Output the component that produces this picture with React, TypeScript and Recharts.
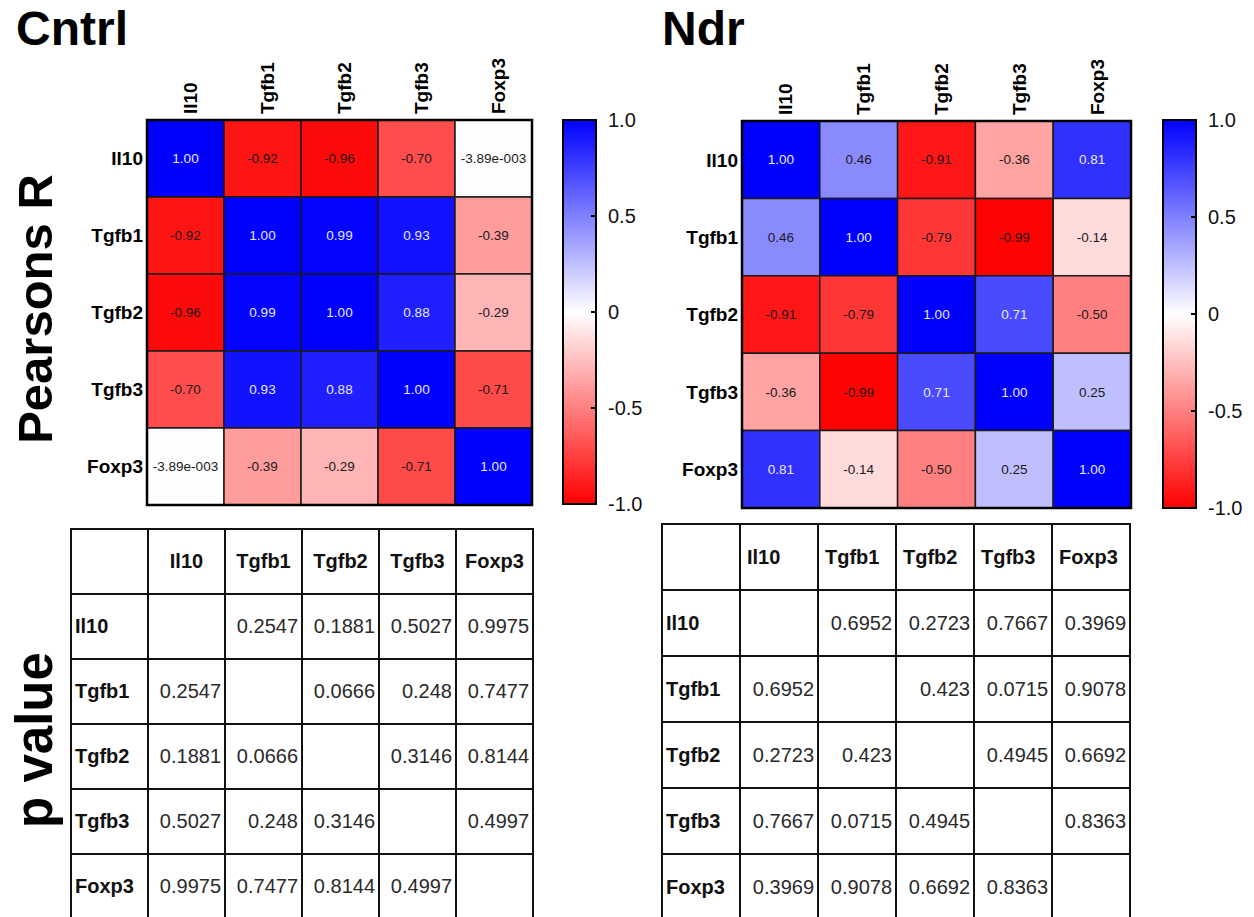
import React from 'react';
import { ScatterChart, Scatter, XAxis, YAxis, ReferenceArea, Label, BarChart, Bar } from 'recharts';

const genes = ['Il10', 'Tgfb1', 'Tgfb2', 'Tgfb3', 'Foxp3'];

const cntrlR = [
  [1.0, -0.92, -0.96, -0.7, -0.00389],
  [-0.92, 1.0, 0.99, 0.93, -0.39],
  [-0.96, 0.99, 1.0, 0.88, -0.29],
  [-0.7, 0.93, 0.88, 1.0, -0.71],
  [-0.00389, -0.39, -0.29, -0.71, 1.0],
];

const ndrR = [
  [1.0, 0.46, -0.91, -0.36, 0.81],
  [0.46, 1.0, -0.79, -0.99, -0.14],
  [-0.91, -0.79, 1.0, 0.71, -0.5],
  [-0.36, -0.99, 0.71, 1.0, 0.25],
  [0.81, -0.14, -0.5, 0.25, 1.0],
];

const cntrlP = [
  [null, 0.2547, 0.1881, 0.5027, 0.9975],
  [0.2547, null, 0.0666, 0.248, 0.7477],
  [0.1881, 0.0666, null, 0.3146, 0.8144],
  [0.5027, 0.248, 0.3146, null, 0.4997],
  [0.9975, 0.7477, 0.8144, 0.4997, null],
];

const ndrP = [
  [null, 0.6952, 0.2723, 0.7667, 0.3969],
  [0.6952, null, 0.423, 0.0715, 0.9078],
  [0.2723, 0.423, null, 0.4945, 0.6692],
  [0.7667, 0.0715, 0.4945, null, 0.8363],
  [0.3969, 0.9078, 0.6692, 0.8363, null],
];

const cellCenters = [0.5, 1.5, 2.5, 3.5, 4.5];
const colorTicks = [-1, -0.5, 0, 0.5, 1];
const innerTicks = [-0.5, 0, 0.5];
const barData = [{ name: 'scale', range: [-1, 1] }];

const FONT = '"Liberation Sans", Arial, Helvetica, sans-serif';

function cellColor(v: number) {
  if (v >= 0) {
    const c = Math.round(255 * (1 - v));
    return `rgb(${c},${c},255)`;
  }
  const c = Math.round(255 * (1 + v));
  return `rgb(255,${c},${c})`;
}

function fmtR(v: number) {
  if (v !== 0 && Math.abs(v) < 0.01) {
    return v.toExponential(2).replace(/e([+-])(\d+)$/, (_m, s, d) => 'e' + s + String(d).padStart(3, '0'));
  }
  return v.toFixed(2);
}

function fmtTick(v: number) {
  return v === 0 ? '0' : v.toFixed(1);
}

const ColTick = (props: any) => {
  const { x, y, payload } = props;
  const name = genes[Math.floor(payload.value)];
  return (
    <text
      transform={`translate(${x},${y}) rotate(-90)`}
      textAnchor="start"
      dy="0.6em"
      fontFamily={FONT}
      fontWeight={700}
      fontSize={19}
      fill="#000"
    >
      {name}
    </text>
  );
};

const RowTick = (props: any) => {
  const { x, y, payload } = props;
  const name = genes[Math.floor(payload.value)];
  return (
    <text x={x} y={y} textAnchor="end" dy="0.36em" fontFamily={FONT} fontWeight={700} fontSize={19} fill="#000">
      {name}
    </text>
  );
};

function Heatmap({ matrix, left, top, margin }: any) {
  const points = matrix.flatMap((row: number[], i: number) => row.map((v, j) => ({ x: j + 0.5, y: i + 0.5, v })));
  return (
    <div style={{ position: 'absolute', left, top }}>
      <ScatterChart width={560} height={520} margin={margin}>
        <XAxis
          type="number"
          dataKey="x"
          orientation="top"
          domain={[0, 5]}
          ticks={cellCenters}
          interval={0}
          height={100}
          tickSize={0}
          tickMargin={6}
          axisLine={false}
          tickLine={false}
          tick={<ColTick />}
          allowDataOverflow
        />
        <YAxis
          type="number"
          dataKey="y"
          domain={[0, 5]}
          reversed
          ticks={cellCenters}
          interval={0}
          width={140}
          tickSize={0}
          tickMargin={4}
          axisLine={false}
          tickLine={false}
          tick={<RowTick />}
          allowDataOverflow
        />
        <Scatter data={points} fill="none" isAnimationActive={false} shape={() => <g />} />
        {matrix.map((row: number[], i: number) =>
          row.map((v: number, j: number) => (
            <ReferenceArea
              key={`c${i}-${j}`}
              x1={j}
              x2={j + 1}
              y1={i}
              y2={i + 1}
              fill={cellColor(v)}
              fillOpacity={1}
              stroke="#1a1a1a"
              strokeWidth={1.5}
              label={
                <Label
                  value={fmtR(v)}
                  position="center"
                  fill={v >= 0.6 ? '#e8e8ff' : '#1a1a1a'}
                  fontSize={13.5}
                  fontFamily={FONT}
                />
              }
            />
          ))
        )}
        <ReferenceArea x1={0} x2={5} y1={0} y2={5} fill="none" fillOpacity={0} stroke="#000" strokeWidth={2.5} />
      </ScatterChart>
    </div>
  );
}

function ColorBar({ left, top, width, height, margin, axisWidth, gradId }: any) {
  return (
    <div style={{ position: 'absolute', left, top }}>
      <BarChart width={width} height={height} data={barData} margin={margin} barCategoryGap={0}>
        <XAxis dataKey="name" hide />
        <YAxis
          yAxisId="l"
          orientation="left"
          mirror
          domain={[-1, 1]}
          ticks={innerTicks}
          interval={0}
          tick={false}
          tickSize={5}
          axisLine={false}
          tickLine={{ stroke: '#000', strokeWidth: 2 }}
        />
        <YAxis
          yAxisId="r"
          orientation="right"
          domain={[-1, 1]}
          ticks={colorTicks}
          interval={0}
          width={axisWidth}
          tickSize={-5}
          tickMargin={17}
          axisLine={false}
          tickLine={{ stroke: '#000', strokeWidth: 2 }}
          tick={{ fill: '#111', fontSize: 20, fontFamily: FONT }}
          tickFormatter={fmtTick}
        />
        <Bar yAxisId="r" dataKey="range" fill={`url(#${gradId})`} stroke="#000" strokeWidth={2} isAnimationActive={false} />
      </BarChart>
    </div>
  );
}

function PTable({ data, left, top, width, rowH, headerAlign, headerPad }: any) {
  const base: React.CSSProperties = {
    border: '2.5px solid #111',
    fontSize: 20,
    height: rowH,
    verticalAlign: 'middle',
    whiteSpace: 'nowrap',
    overflow: 'hidden',
    padding: '0 3px',
    boxSizing: 'border-box',
  };
  return (
    <table
      style={{
        position: 'absolute',
        left,
        top,
        width,
        borderCollapse: 'collapse',
        tableLayout: 'fixed',
        fontFamily: FONT,
        color: '#111',
      }}
    >
      <colgroup>
        {[0, 1, 2, 3, 4, 5].map((k) => (
          <col key={k} style={{ width: width / 6 }} />
        ))}
      </colgroup>
      <tbody>
        <tr>
          <td style={base} />
          {genes.map((g) => (
            <td key={g} style={{ ...base, fontWeight: 700, textAlign: headerAlign, paddingLeft: headerPad }}>
              {g}
            </td>
          ))}
        </tr>
        {data.map((row: (number | null)[], i: number) => (
          <tr key={i}>
            <td style={{ ...base, fontWeight: 700, textAlign: 'left' }}>{genes[i]}</td>
            {row.map((v, j) => (
              <td key={j} style={{ ...base, textAlign: 'right', color: '#2a2a2a' }}>
                {v == null ? '' : String(v)}
              </td>
            ))}
          </tr>
        ))}
      </tbody>
    </table>
  );
}

export default function App() {
  return (
    <div
      style={{
        position: 'absolute',
        left: 0,
        top: 0,
        width: 1254,
        height: 917,
        overflow: 'hidden',
        background: '#fff',
        fontFamily: FONT,
      }}
    >
      <svg width={0} height={0} style={{ position: 'absolute' }}>
        <defs>
          {['gradL', 'gradR'].map((id) => (
            <linearGradient key={id} id={id} x1="0" y1="0" x2="0" y2="1">
              <stop offset="0%" stopColor="#0000ff" />
              <stop offset="50%" stopColor="#ffffff" />
              <stop offset="100%" stopColor="#ff0000" />
            </linearGradient>
          ))}
        </defs>
      </svg>

      <svg width={1254} height={917} style={{ position: 'absolute', left: 0, top: 0 }}>
        <text x={16} y={45} fontFamily={FONT} fontWeight={700} fontSize={48} fill="#000">
          Cntrl
        </text>
        <text x={662} y={45} fontFamily={FONT} fontWeight={700} fontSize={48} fill="#000">
          Ndr
        </text>
        <text
          transform="translate(52,309) rotate(-90)"
          textAnchor="middle"
          fontFamily={FONT}
          fontWeight={700}
          fontSize={49}
          fill="#000"
        >
          Pearsons R
        </text>
        <text
          transform="translate(52,740) rotate(-90)"
          textAnchor="middle"
          fontFamily={FONT}
          fontWeight={700}
          fontSize={51}
          fill="#000"
        >
          p value
        </text>
      </svg>

      <Heatmap matrix={cntrlR} left={0} top={0} margin={{ top: 20, right: 28, bottom: 15, left: 7 }} />
      <Heatmap matrix={ndrR} left={600} top={0} margin={{ top: 21, right: 29, bottom: 12, left: 2 }} />

      <ColorBar
        left={540}
        top={100}
        width={120}
        height={420}
        axisWidth={60}
        margin={{ top: 20, right: 4, bottom: 16, left: 23 }}
        gradId="gradL"
      />
      <ColorBar
        left={1140}
        top={100}
        width={114}
        height={424}
        axisWidth={50}
        margin={{ top: 20, right: 8, bottom: 16, left: 23 }}
        gradId="gradR"
      />

      <PTable data={cntrlP} left={70} top={528} width={462} rowH={65} headerAlign="center" headerPad={3} />
      <PTable data={ndrP} left={661} top={523} width={468} rowH={66} headerAlign="left" headerPad={6} />
    </div>
  );
}
